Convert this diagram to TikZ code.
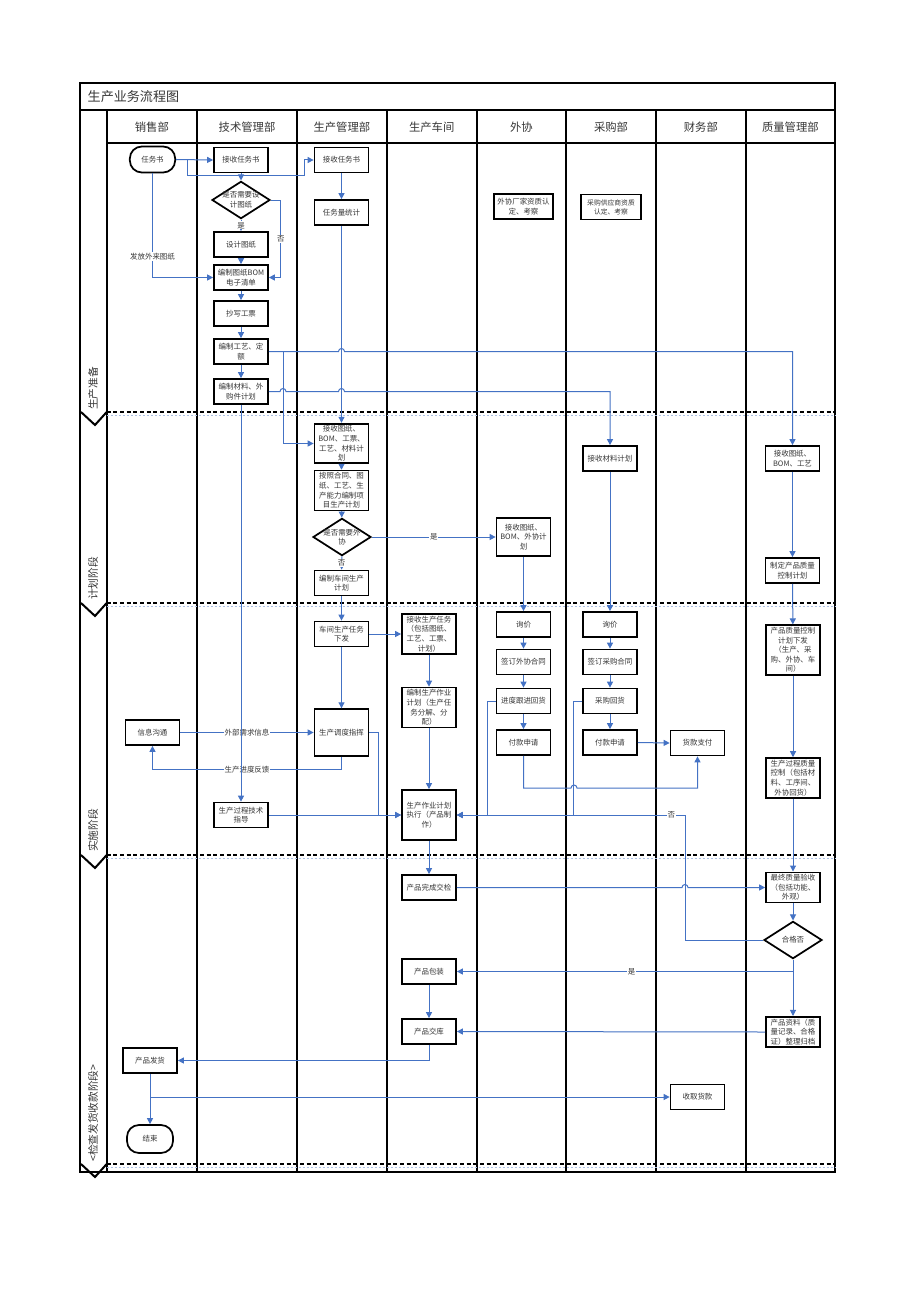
\documentclass[tikz,border=0pt]{standalone}
\usepackage{fontspec}
\setmainfont{Noto Sans CJK SC}
\usetikzlibrary{shapes.geometric,arrows.meta}
\definecolor{cblue}{RGB}{68,114,196}
\definecolor{tgray}{RGB}{55,55,55}
\begin{document}
\begin{tikzpicture}[x=0.75pt,y=-0.75pt,
  box/.style={draw=black, line width=1.3pt, fill=white, minimum width=40.5pt, minimum height=18.75pt, inner sep=1.5pt, align=center, font=\fontsize{5.6}{7.2}\selectfont, text=tgray},
  term/.style={box, rounded corners=9pt, minimum width=34pt, minimum height=19.5pt},
  dia/.style={draw=black, diamond, line width=1.3pt, fill=white, minimum width=43.5pt, minimum height=28pt, inner sep=0pt},
  dtxt/.style={align=center, font=\fontsize{5.6}{7.2}\selectfont, text=tgray, inner sep=0pt},
  arr/.style={draw=cblue, line width=0.75pt, -{Triangle[length=4.5pt,width=4.5pt]}},
  conn/.style={draw=cblue, line width=0.75pt},
  lbl/.style={fill=white, inner sep=0.6pt, font=\fontsize{5.6}{6.5}\selectfont, text=tgray},
  lane/.style={line width=1.5pt},
  phsep/.style={line width=1.5pt, dash pattern=on 3pt off 2pt},
  lightsep/.style={draw=cblue!45, line width=0.5pt, dash pattern=on 2pt off 1pt},
  hdr/.style={font=\fontsize{8.5}{10}\selectfont, text=tgray},
  phase/.style={rotate=90, anchor=west, font=\fontsize{8}{9}\selectfont, text=tgray, inner sep=0pt}
]
\useasboundingbox (0,0) rectangle (920,1302);
\fill[white] (0,0) rectangle (920,1302);

% frame and lanes
\draw[line width=1pt] (80,83) rectangle (835,1172);
\draw[line width=1pt] (80,110) -- (835,110);
\draw[lane] (106.7,143) -- (835,143);
\foreach \x in {106.7,197,297,386.7,476.7,566,656,745.7} \draw[lane] (\x,110) -- (\x,1172);

% phase separators
\foreach \y in {412,603,855,1164} {
  \draw[lightsep] (106.7,\y+3.5) -- (835,\y+3.5);
  \draw[phsep] (106.7,\y) -- (835,\y);
  \draw[lane] (81,\y) -- (95,\y+13) -- (106.7,\y);
}

% title, headers, phases
\node[anchor=west, font=\fontsize{9.8}{11}\selectfont, text=tgray] (title) at (83,96.5) {生产业务流程图};
\node[hdr] (h1) at (151.9,127) {销售部};
\node[hdr] (h2) at (247,127) {技术管理部};
\node[hdr] (h3) at (341.9,127) {生产管理部};
\node[hdr] (h4) at (431.7,127) {生产车间};
\node[hdr] (h5) at (521.4,127) {外协};
\node[hdr] (h6) at (611,127) {采购部};
\node[hdr] (h7) at (700.9,127) {财务部};
\node[hdr] (h8) at (790.4,127) {质量管理部};
\node[phase] (ph1) at (93,410) {生产准备};
\node[phase] (ph2) at (93,600) {计划阶段};
\node[phase] (ph3) at (93,852) {实施阶段};
\node[phase] (ph4) at (93,1162) {<检查发货收款阶段>};

% nodes
\node[term] (rws) at (152.5,159.5) {任务书};
\node[box] (tjs) at (241,160) {接收任务书};
\node[box] (pjs) at (341.5,160) {接收任务书};
\node[dia] (d1) at (241,200) {};
\node[dtxt] (d1t) at (241,200) {是否需要设\\计图纸};
\node[box] (sjtz) at (241,244.5) {设计图纸};
\node[box] (bom) at (241,277.5) {编制图纸BOM\\电子清单};
\node[box] (cxgp) at (241,313.5) {抄写工票};
\node[box] (gy) at (241,351.5) {编制工艺、定\\额};
\node[box] (cl) at (241,391.5) {编制材料、外\\购件计划};
\node[box] (rwl) at (341.5,212.5) {任务量统计};
\node[box, minimum width=44.5pt] (wxzz) at (523.5,206.5) {外协厂家资质认\\定、考察};
\node[box, minimum width=45pt, font=\fontsize{5.1}{6.6}\selectfont] (cgzz) at (611,207) {采购供应商资质\\认定、考察};
\node[box] (jstz) at (341.5,443.5) {接收图纸、\\BOM、工票、\\工艺、材料计\\划};
\node[box] (azht) at (341.5,490.5) {按照合同、图\\纸、工艺、生\\产能力编制项\\目生产计划};
\node[dia] (d2) at (342,537) {};
\node[dtxt] (d2t) at (342,537) {是否需要外\\协};
\node[box] (cjjh) at (341.5,583) {编制车间生产\\计划};
\node[box, minimum height=28.5pt] (wxjs) at (523.5,537) {接收图纸、\\BOM、外协计\\划};
\node[box] (jscl) at (610,458.5) {接收材料计划};
\node[box] (zljs) at (792.5,458.5) {接收图纸、\\BOM、工艺};
\node[box] (zdzl) at (792.5,570.5) {制定产品质量\\控制计划};
\node[box] (cjxf) at (341.5,634) {车间生产任务\\下发};
\node[box, minimum height=35pt] (ddzh) at (341.5,732.5) {生产调度指挥};
\node[box] (xxgt) at (152.5,732.5) {信息沟通};
\node[box] (jsgz) at (241,815) {生产过程技术\\指导};
\node[box] (jsrw) at (429,634) {接收生产任务\\（包括图纸、\\工艺、工票、\\计划）};
\node[box] (bzzy) at (429,707.5) {编制生产作业\\计划（生产任\\务分解、分\\配）};
\node[box, minimum height=37.5pt] (zxjh) at (429,815) {生产作业计划\\执行（产品制\\作）};
\node[box] (wxxj) at (523.5,624.5) {询价};
\node[box] (wxht) at (523.5,662) {签订外协合同};
\node[box] (wxhh) at (523.5,701) {进度跟进回货};
\node[box] (wxfk) at (523.5,742.5) {付款申请};
\node[box] (cgxj) at (610,624.5) {询价};
\node[box] (cght) at (610,662) {签订采购合同};
\node[box] (cghh) at (610,701) {采购回货};
\node[box] (cgfk) at (610,742.5) {付款申请};
\node[box] (hkzf) at (697.5,743) {货款支付};
\node[box] (zlxf) at (793,650) {产品质量控制\\计划下发\\（生产、采\\购、外协、车\\间）};
\node[box] (gckz) at (793,778) {生产过程质量\\控制（包括材\\料、工序间、\\外协回货）};
\node[box] (wcjj) at (429,887.5) {产品完成交检};
\node[box] (zzys) at (793,887.5) {最终质量验收\\（包括功能、\\外观）};
\node[dia] (d3) at (793,940) {};
\node[dtxt] (d3t) at (793,940) {合格否};
\node[box] (bz) at (429,971.5) {产品包装};
\node[box] (jk) at (429,1031.5) {产品交库};
\node[box] (zlgd) at (793,1032) {产品资料（质\\量记录、合格\\证）整理归档};
\node[box] (fh) at (150,1060.5) {产品发货};
\node[term, minimum width=34.5pt, minimum height=21pt] (end) at (150,1139) {结束};
\node[box] (sqhk) at (697.5,1097) {收取货款};

% coordinates for branches
\coordinate (br1) at (283,351.5);
\coordinate (br2) at (793,971.5);
\coordinate (br3) at (150,1097);

% connectors
\draw[arr] (rws.east) -- (tjs.west);
\draw[arr] (rws.east) -- ++(11,0) |- (304,176) |- (pjs.west);
\draw[arr] (tjs) -- (d1);
\draw[arr] (d1) -- node[lbl] (l1) {是} (sjtz);
\draw[arr] (d1.east) -- ++(10,0) -- node[lbl] (l2) {否} ++(0,77.5) -- (bom.east);
\draw[arr] (rws.south) |- node[lbl, pos=0.4] (l3) {发放外来图纸} (bom.west);
\draw[arr] (sjtz) -- (bom);
\draw[arr] (bom) -- (cxgp);
\draw[arr] (cxgp) -- (gy);
\draw[arr] (gy) -- (cl);
\draw[arr] (pjs) -- (rwl);
\draw[arr] (rwl) -- (jstz);
\draw[arr] (gy.east) -- (338.5,351.5) arc[start angle=180,end angle=0,radius=2.25pt] -| (zljs.north);
\draw[arr] (br1) |- (jstz.west);
\draw[arr] (cl.east) -- (280,391.5) arc[start angle=180,end angle=0,radius=2.25pt] -- (338.5,391.5) arc[start angle=180,end angle=0,radius=2.25pt] -| (jscl.north);
\draw[arr] (jstz) -- (azht);
\draw[arr] (azht) -- (d2);
\draw[arr] (d2) -- node[lbl] (l4) {否} (cjjh);
\draw[arr] (d2.east) -- node[lbl] (l5) {是} (wxjs.west);
\draw[arr] (cjjh) -- (cjxf);
\draw[arr] (cjxf) -- (ddzh);
\draw[arr] (wxjs) -- (wxxj);
\draw[arr] (wxxj) -- (wxht);
\draw[arr] (wxht) -- (wxhh);
\draw[arr] (wxhh) -- (wxfk);
\draw[arr] (jscl) -- (cgxj);
\draw[arr] (cgxj) -- (cght);
\draw[arr] (cght) -- (cghh);
\draw[arr] (cghh) -- (cgfk);
\draw[arr] (zljs) -- (zdzl);
\draw[arr] (zdzl) -- (zlxf);
\draw[arr] (zlxf) -- (gckz);
\draw[arr] (gckz) -- (zzys);
\draw[arr] (zzys) -- (d3);
\draw[arr] (cjxf.east) -- (jsrw.west);
\draw[arr] (jsrw) -- (bzzy);
\draw[arr] (bzzy) -- (zxjh);
\draw[arr] (xxgt.east) -- node[lbl] (l6) {外部需求信息} (ddzh.west);
\draw[arr] (ddzh.south) -- ++(0,13) -| node[lbl, pos=0.25] (l7) {生产进度反馈} (xxgt.south);
\draw[arr] (cl.south) -- (jsgz.north);
\draw[arr] (jsgz.east) -- (zxjh.west);
\draw[arr] (ddzh.east) -- ++(9,0) |- (zxjh.west);
\draw[arr] (wxhh.west) -- ++(-8,0) |- (zxjh.east);
\draw[arr] (cghh.west) -- ++(-9,0) |- (zxjh.east);
\draw[arr] (wxfk.south) |- (571,788) arc[start angle=180,end angle=0,radius=2.25pt] -| (hkzf.south);
\draw[arr] (cgfk.east) -- (hkzf.west);
\draw[arr] (d3.west) -| (685,815) -- node[lbl, pos=0.06] (l8) {否} (zxjh.east);
\draw[arr] (zxjh) -- (wcjj);
\draw[arr] (wcjj.east) -- (682,887.5) arc[start angle=180,end angle=0,radius=2.25pt] -- (zzys.west);
\draw[arr] (d3) -- (zlgd);
\draw[arr] (br2) -- node[lbl, pos=0.48] (l9) {是} (bz.east);
\draw[arr] (bz) -- (jk);
\draw[arr] (zlgd.west) -- (jk.east);
\draw[arr] (jk.south) |- (fh.east);
\draw[arr] (fh) -- (end);
\draw[arr] (br3) -- (sqhk.west);
\end{tikzpicture}
\end{document}
